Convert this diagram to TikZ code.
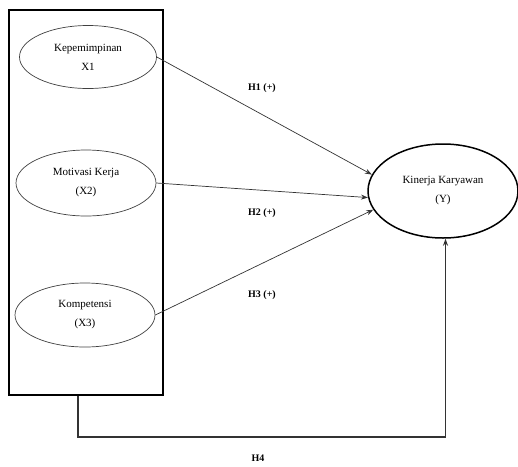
\documentclass[tikz,border=0pt]{standalone}
\usepackage{fontspec}
\setmainfont{Liberation Serif}
\usetikzlibrary{shapes,arrows.meta}

\begin{document}
\begin{tikzpicture}[x=1pt,y=-1pt,
      every node/.style={font=\fontsize{11}{19}\selectfont,align=center},
      var/.style={ellipse,draw=black!75,line width=0.7pt,inner sep=0pt},
      hyp/.style={font=\fontsize{10}{11}\selectfont\bfseries},
      link/.style={draw=black!80,line width=0.7pt,-{Stealth[length=7pt,width=5pt]}}]
    \useasboundingbox (0,0) rectangle (518,466);
    \node[draw,line width=2.5pt,minimum width=154pt,minimum height=385pt] (blok) at (86,202.5) {};
    \node[var,minimum width=137pt,minimum height=63pt] (x1) at (88,57) {Kepemimpinan\\X1};
    \node[var,minimum width=140pt,minimum height=66pt] (x2) at (86,183) {Motivasi Kerja\\(X2)};
    \node[var,minimum width=140pt,minimum height=64pt] (x3) at (85,315) {Kompetensi\\(X3)};
    \node[var,draw=black,line width=1.5pt,minimum width=150pt,minimum height=94pt] (y) at (443,191) {Kinerja Karyawan\\(Y)};
    \draw[link] (x1.east) -- (y.167);
    \draw[link] (x2.east) -- (y.185);
    \draw[link] (x3.east) -- (y.195);
    \coordinate (c4) at (78,437);
    \draw[link,line width=1.2pt] (blok.south -| c4) -- (c4) -| (y.273);
    \node[hyp] (h1) at (262,88) {H1 (+)};
    \node[hyp] (h2) at (262,213) {H2 (+)};
    \node[hyp] (h3) at (262,295) {H3 (+)};
    \node[hyp] (h4) at (258,458) {H4};
\end{tikzpicture}
\end{document}
